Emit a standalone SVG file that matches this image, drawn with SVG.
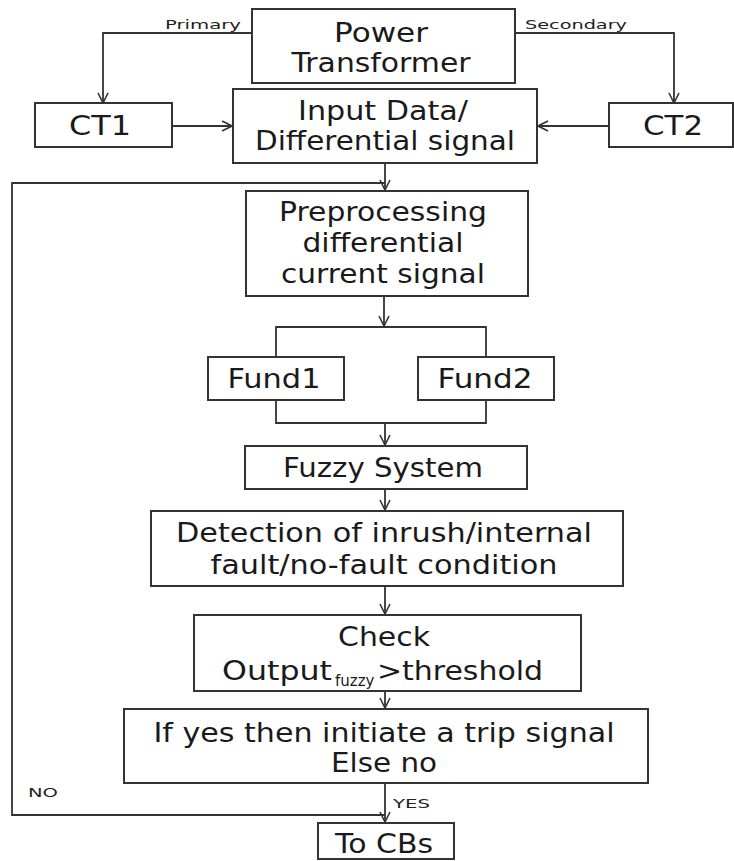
<svg xmlns="http://www.w3.org/2000/svg" width="734" height="861" viewBox="0 0 734 861">
<defs>
<marker id="arr" viewBox="0 0 12 12" refX="11" refY="6" markerWidth="12" markerHeight="12" markerUnits="userSpaceOnUse" orient="auto">
<path d="M1,1 L11,6 L1,11" fill="none" stroke="#333" stroke-width="1.6"/>
</marker>
</defs>
<style>
.box{fill:#fff;stroke:#333;stroke-width:2}
.t{font-family:"DejaVu Sans","Liberation Sans",sans-serif;font-size:26px;fill:#1a1a1a;text-anchor:middle}
.s{font-family:"DejaVu Sans","Liberation Sans",sans-serif;font-size:13px;fill:#222;text-anchor:start}
.c{fill:none;stroke:#333;stroke-width:1.8}
.a{fill:none;stroke:#333;stroke-width:1.8;marker-end:url(#arr)}
</style>
<rect width="734" height="861" fill="#fff"/>
<g id="connectors">
<polyline class="a" points="252,33 103,33 103,103"/>
<polyline class="a" points="515,33 674,33 674,103"/>
<line class="a" x1="172" y1="126" x2="232" y2="126"/>
<line class="a" x1="609" y1="126" x2="538" y2="126"/>
<line class="a" x1="385" y1="163" x2="385" y2="190"/>
<polyline class="c" points="385,815 12,815 12,183 385,183"/>
<line class="a" x1="384" y1="296" x2="384" y2="326"/>
<polyline class="c" points="276,357 276,327 486,327 486,357"/>
<polyline class="c" points="276,400 276,423 486,423 486,400"/>
<line class="a" x1="385" y1="423" x2="385" y2="445"/>
<line class="a" x1="385" y1="489" x2="385" y2="510"/>
<line class="a" x1="385" y1="586" x2="385" y2="614"/>
<line class="a" x1="385" y1="691" x2="385" y2="708"/>
<line class="a" x1="385" y1="783" x2="385" y2="822"/>
<text class="s" x="165" y="29" textLength="76" lengthAdjust="spacingAndGlyphs">Primary</text>
<text class="s" x="525" y="29" textLength="102" lengthAdjust="spacingAndGlyphs">Secondary</text>
<text class="s" x="28" y="797" textLength="30" lengthAdjust="spacingAndGlyphs">NO</text>
<text class="s" x="393" y="808" textLength="37" lengthAdjust="spacingAndGlyphs">YES</text>
</g>
<g id="power-transformer">
<rect class="box" x="252" y="9" width="263" height="74"/>
<text class="t" x="381" y="42" textLength="94" lengthAdjust="spacingAndGlyphs">Power</text>
<text class="t" x="381" y="72" textLength="179" lengthAdjust="spacingAndGlyphs">Transformer</text>
</g>
<g id="ct1">
<rect class="box" x="35" y="103" width="137" height="44"/>
<text class="t" x="100" y="135" textLength="62" lengthAdjust="spacingAndGlyphs">CT1</text>
</g>
<g id="input-data">
<rect class="box" x="233" y="89" width="304" height="74"/>
<text class="t" x="383" y="120" textLength="170" lengthAdjust="spacingAndGlyphs">Input Data/</text>
<text class="t" x="385" y="150" textLength="260" lengthAdjust="spacingAndGlyphs">Differential signal</text>
</g>
<g id="ct2">
<rect class="box" x="609" y="103" width="124" height="44"/>
<text class="t" x="673" y="135" textLength="60" lengthAdjust="spacingAndGlyphs">CT2</text>
</g>
<g id="preprocessing">
<rect class="box" x="246" y="191" width="282" height="105"/>
<text class="t" x="383" y="221" textLength="208" lengthAdjust="spacingAndGlyphs">Preprocessing</text>
<text class="t" x="383" y="252" textLength="161" lengthAdjust="spacingAndGlyphs">differential</text>
<text class="t" x="383" y="283" textLength="204" lengthAdjust="spacingAndGlyphs">current signal</text>
</g>
<g id="fund1">
<rect class="box" x="208" y="357" width="136" height="43"/>
<text class="t" x="274" y="388" textLength="93" lengthAdjust="spacingAndGlyphs">Fund1</text>
</g>
<g id="fund2">
<rect class="box" x="418" y="357" width="136" height="43"/>
<text class="t" x="485" y="388" textLength="95" lengthAdjust="spacingAndGlyphs">Fund2</text>
</g>
<g id="fuzzy-system">
<rect class="box" x="245" y="446" width="282" height="43"/>
<text class="t" x="383" y="477" textLength="200" lengthAdjust="spacingAndGlyphs">Fuzzy System</text>
</g>
<g id="detection">
<rect class="box" x="151" y="511" width="472" height="75"/>
<text class="t" x="384" y="542" textLength="416" lengthAdjust="spacingAndGlyphs">Detection of inrush/internal</text>
<text class="t" x="384" y="574" textLength="347" lengthAdjust="spacingAndGlyphs">fault/no-fault condition</text>
</g>
<g id="check">
<rect class="box" x="194" y="615" width="387" height="76"/>
<text class="t" x="384" y="646" textLength="92" lengthAdjust="spacingAndGlyphs">Check</text>
<text class="t" style="text-anchor:start"><tspan x="222" y="680" textLength="110" lengthAdjust="spacingAndGlyphs">Output</tspan><tspan x="335" y="686" style="font-size:15px">fuzzy</tspan><tspan x="377" y="680" textLength="166" lengthAdjust="spacingAndGlyphs">&gt;threshold</tspan></text>
</g>
<g id="decision">
<rect class="box" x="124" y="709" width="524" height="74"/>
<text class="t" x="384" y="742" textLength="461" lengthAdjust="spacingAndGlyphs">If yes then initiate a  trip signal</text>
<text class="t" x="384" y="772" textLength="106" lengthAdjust="spacingAndGlyphs">Else no</text>
</g>
<g id="to-cbs">
<rect class="box" x="318" y="823" width="136" height="36"/>
<text class="t" x="384" y="853" textLength="98" lengthAdjust="spacingAndGlyphs">To CBs</text>
</g>
</svg>
